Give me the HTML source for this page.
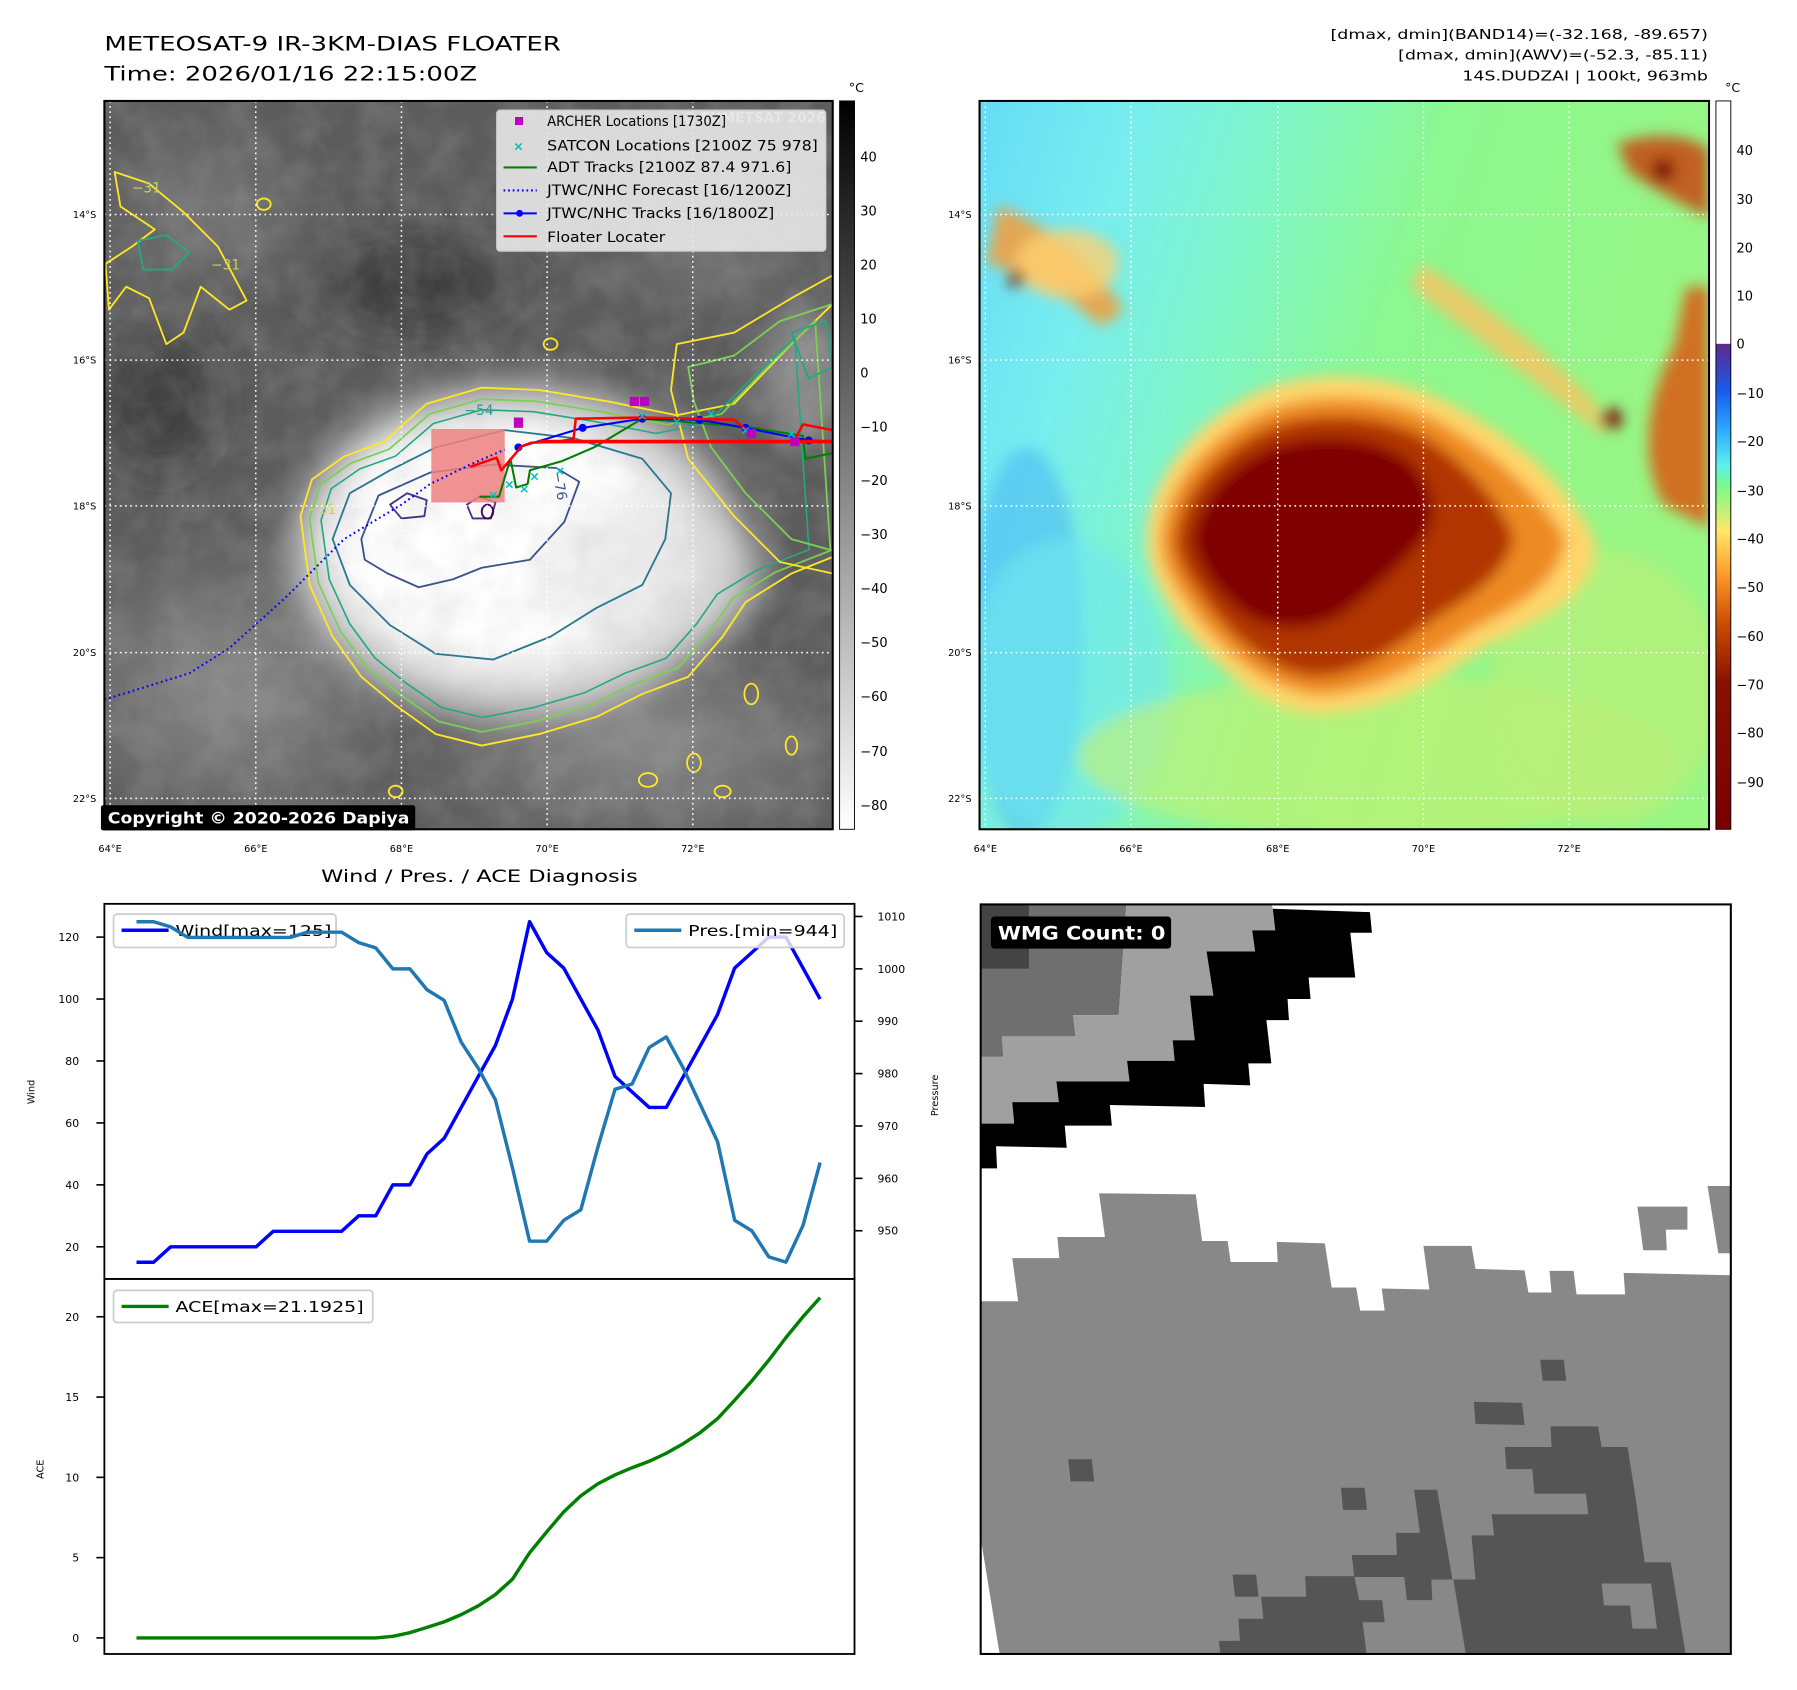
<!DOCTYPE html>
<html><head><meta charset="utf-8"><title>METEOSAT-9 IR Floater</title>
<style>
html,body{margin:0;padding:0;background:#fff;}
svg{display:block;font-family:"DejaVu Sans","Liberation Sans",sans-serif;}
</style></head>
<body>
<svg id="fig" width="1797" height="1690" viewBox="0 0 1566.7 1473.4" xmlns="http://www.w3.org/2000/svg">
<defs>
  <clipPath id="clip1"><rect x="91" y="88" width="635" height="635"/></clipPath>
  <clipPath id="clip2"><rect x="854" y="88" width="636" height="635"/></clipPath>
  <clipPath id="clip3"><rect x="855" y="789" width="654" height="653"/></clipPath>
  <filter id="blur6" x="-20%" y="-20%" width="140%" height="140%"><feGaussianBlur stdDeviation="6"/></filter>
  <filter id="blur14" x="-30%" y="-30%" width="160%" height="160%"><feGaussianBlur stdDeviation="14"/></filter>
  <filter id="noise" x="0" y="0" width="100%" height="100%">
    <feTurbulence type="fractalNoise" baseFrequency="0.035" numOctaves="3" seed="4"/>
    <feColorMatrix type="matrix" values="0 0 0 0 0.5  0 0 0 0 0.5  0 0 0 0 0.5  0 0 0 1.1 -0.35"/>
  </filter>
  <linearGradient id="cbGray" x1="0" y1="1" x2="0" y2="0">
    <stop offset="0" stop-color="#ffffff"/><stop offset="1" stop-color="#000000"/>
  </linearGradient>
  <linearGradient id="cbJet" x1="0" y1="0" x2="0" y2="1">
    <stop offset="0" stop-color="#ffffff"/>
    <stop offset="0.333" stop-color="#ffffff"/>
    <stop offset="0.334" stop-color="#5a2a8c"/>
    <stop offset="0.40" stop-color="#1a5cf0"/>
    <stop offset="0.45" stop-color="#2aa8ff"/>
    <stop offset="0.50" stop-color="#5cf0f0"/>
    <stop offset="0.53" stop-color="#7cfb8a"/>
    <stop offset="0.59" stop-color="#ffe866"/>
    <stop offset="0.65" stop-color="#ff9a2a"/>
    <stop offset="0.72" stop-color="#c84a00"/>
    <stop offset="0.80" stop-color="#8a1000"/>
    <stop offset="1" stop-color="#7a0000"/>
  </linearGradient>
  <radialGradient id="irCore" cx="0.5" cy="0.5" r="0.5">
    <stop offset="0" stop-color="#ffffff"/><stop offset="0.6" stop-color="#f4f4f4"/>
    <stop offset="0.85" stop-color="#c8c8c8"/><stop offset="1" stop-color="#8a8a8a" stop-opacity="0"/>
  </radialGradient>
  <radialGradient id="irPatch" cx="0.5" cy="0.5" r="0.5">
    <stop offset="0" stop-color="#8c8c8c"/><stop offset="1" stop-color="#8c8c8c" stop-opacity="0"/>
  </radialGradient>
  <radialGradient id="irDark" cx="0.5" cy="0.5" r="0.5">
    <stop offset="0" stop-color="#333"/><stop offset="1" stop-color="#333" stop-opacity="0"/>
  </radialGradient>
  <linearGradient id="awvBg" x1="0" y1="0" x2="1" y2="0.3">
    <stop offset="0" stop-color="#66dcf6"/><stop offset="0.2" stop-color="#78eef0"/>
    <stop offset="0.4" stop-color="#80f6c4"/><stop offset="0.6" stop-color="#8cf890"/>
    <stop offset="1" stop-color="#98f684"/>
  </linearGradient>
  <polygon id="outerShape" points="262,450 272,418 300,398 335,385 372,352 420,338 470,340 530,350 590,362 640,352 690,300 726,265 740,480 690,500 650,525 630,555 600,590 560,605 520,625 470,640 420,650 380,640 345,615 315,590 290,555 270,510"/>
</defs>

<!-- Titles -->
<text x="91" y="44" font-size="17" textLength="398" lengthAdjust="spacingAndGlyphs" fill="#000">METEOSAT-9 IR-3KM-DIAS FLOATER</text>
<text x="91" y="70" font-size="17" textLength="325" lengthAdjust="spacingAndGlyphs" fill="#000">Time: 2026/01/16 22:15:00Z</text>
<g font-size="11.3" fill="#000">
  <text x="1160" y="34" textLength="329" lengthAdjust="spacingAndGlyphs">[dmax, dmin](BAND14)=(-32.168, -89.657)</text>
  <text x="1219" y="52" textLength="270" lengthAdjust="spacingAndGlyphs">[dmax, dmin](AWV)=(-52.3, -85.11)</text>
  <text x="1275" y="70" textLength="214" lengthAdjust="spacingAndGlyphs">14S.DUDZAI | 100kt, 963mb</text>
</g>

<!-- IR map -->
<g id="irmap" clip-path="url(#clip1)">
  <rect x="91" y="88" width="635" height="635" fill="#5c5c5c"/>
  <g filter="url(#blur14)">
    <ellipse cx="200" cy="600" rx="170" ry="140" fill="url(#irPatch)"/>
    <ellipse cx="560" cy="650" rx="220" ry="100" fill="url(#irPatch)"/>
    <ellipse cx="180" cy="180" rx="110" ry="90" fill="url(#irPatch)" opacity="0.6"/>
    <ellipse cx="620" cy="230" rx="120" ry="50" fill="url(#irPatch)" opacity="0.5"/>
    <ellipse cx="360" cy="250" rx="120" ry="60" fill="url(#irDark)"/>
    <ellipse cx="140" cy="350" rx="70" ry="80" fill="url(#irDark)"/>
    <ellipse cx="700" cy="330" rx="40" ry="60" fill="#9a9a9a" opacity="0.7"/>
    <ellipse cx="450" cy="480" rx="215" ry="160" fill="url(#irCore)"/>
    <ellipse cx="430" cy="470" rx="150" ry="105" fill="#ffffff" opacity="0.9"/>
    <ellipse cx="570" cy="500" rx="95" ry="65" fill="#e4e4e4" opacity="0.6"/>
  </g>
  <rect x="91" y="88" width="635" height="635" filter="url(#noise)" opacity="0.35"/>
  <g fill="none" stroke-width="1.6" stroke-linejoin="round">
    <use href="#outerShape" stroke="#fde725"/>
    <use href="#outerShape" stroke="#7ad151" transform="translate(420,480) scale(0.95,0.93) translate(-420,-480)"/>
    <use href="#outerShape" stroke="#22a884" transform="translate(425,475) scale(0.89,0.86) translate(-425,-475)"/>
    <polygon stroke="#2a788e" points="290,470 305,430 340,410 380,390 440,375 500,382 560,400 585,430 580,470 560,510 520,530 480,555 430,575 380,570 340,545 305,510"/>
    <polygon stroke="#3b528b" points="315,470 330,432 375,412 430,405 485,408 505,420 492,455 462,488 420,495 395,505 365,512 338,500 318,488"/>
    <polygon stroke="#46327e" points="340,440 355,430 372,436 370,450 350,452"/>
    <polygon stroke="#46327e" points="407,440 418,433 432,438 428,452 412,452"/>
    <ellipse cx="425" cy="446" rx="5" ry="6" stroke="#440154"/>
    <polygon stroke="#fde725" points="100,150 130,160 160,185 190,215 215,262 200,270 175,250 160,290 145,300 130,260 110,250 95,270 92,230 115,215 135,200 105,180"/>
    <polygon stroke="#22a884" points="120,210 145,205 165,220 150,235 125,235"/>
    <polygon stroke="#7ad151" points="600,320 640,310 680,280 726,265 726,480 690,470 650,430 620,390 605,350"/>
    <polygon stroke="#fde725" points="590,300 640,290 690,260 726,240 726,500 680,490 640,450 600,400 585,340"/>
    <polygon stroke="#22a884" points="690,290 720,280 726,320 705,330"/>
    <g stroke="#fde725">
      <ellipse cx="565" cy="680" rx="8" ry="6"/><ellipse cx="605" cy="665" rx="6" ry="8"/><ellipse cx="630" cy="690" rx="7" ry="5"/>
      <ellipse cx="345" cy="690" rx="6" ry="5"/><ellipse cx="480" cy="300" rx="6" ry="5"/><ellipse cx="230" cy="178" rx="6" ry="5"/>
      <ellipse cx="655" cy="605" rx="6" ry="9"/><ellipse cx="690" cy="650" rx="5" ry="8"/>
    </g>
    <text x="405" y="362" font-size="12" fill="#2a9d8f" stroke="none">−54</text>
    <text x="115" y="168" font-size="12" fill="#c8d060" stroke="none">−31</text>
    <text x="184" y="235" font-size="12" fill="#c8d060" stroke="none">−31</text>
    <text x="268" y="448" font-size="12" fill="#d0d060" stroke="none">−31</text>
    <text x="480" y="422" font-size="12" fill="#3b528b" stroke="none" transform="rotate(80 487 418)">−76</text>
  </g>
  <g stroke="#fff" stroke-width="1.3" stroke-dasharray="1.5,3">
    <line x1="96" y1="88" x2="96" y2="723"/><line x1="223" y1="88" x2="223" y2="723"/><line x1="350" y1="88" x2="350" y2="723"/><line x1="477" y1="88" x2="477" y2="723"/><line x1="604" y1="88" x2="604" y2="723"/>
    <line x1="91" y1="187" x2="726" y2="187"/><line x1="91" y1="314" x2="726" y2="314"/><line x1="91" y1="441" x2="726" y2="441"/><line x1="91" y1="569" x2="726" y2="569"/><line x1="91" y1="696" x2="726" y2="696"/>
  </g>
  <rect x="376" y="374" width="64" height="64" fill="#f08080" opacity="0.85"/>
  <g fill="none" stroke-linejoin="round">
    <polyline stroke="#0000ff" stroke-width="1.8" stroke-dasharray="1.5,2.8" points="91,610 165,587 200,565 250,520 300,470 350,440 375,422 410,405 440,392"/>
    <polyline stroke="#008000" stroke-width="1.8" points="418,433 435,433 445,400 450,425 460,422 462,410 490,402 518,390 560,365 600,368 650,372 700,380 702,400 726,395"/>
    <polyline stroke="#0000ff" stroke-width="1.8" points="452,390 508,373 560,365 610,366 650,373 705,384 726,385"/>
    <g fill="#0000ff">
      <circle cx="452" cy="390" r="3.5"/><circle cx="508" cy="373" r="3.5"/><circle cx="560" cy="365" r="3.5"/><circle cx="610" cy="366" r="3.5"/><circle cx="650" cy="373" r="3.5"/><circle cx="705" cy="384" r="3.5"/>
    </g>
    <polyline stroke="#ff0000" stroke-width="2.2" points="410,407 433,399 437,410 455,389 463,386 485,385 500,383 502,365 560,364 640,366 655,378"/>
    <polyline stroke="#ff0000" stroke-width="3.2" points="470,385 726,385"/>
    <polyline stroke="#ff0000" stroke-width="2.2" points="692,385 700,370 726,375"/>
    <g fill="#00c0c0" font-size="11" font-weight="bold" text-anchor="middle" stroke="none">
      <text x="430" y="435">×</text><text x="444" y="426">×</text><text x="457" y="430">×</text><text x="466" y="419">×</text><text x="488" y="414">×</text>
      <text x="560" y="366">×</text><text x="590" y="371">×</text><text x="620" y="364">×</text><text x="650" y="379">×</text><text x="690" y="382">×</text>
    </g>
    <g fill="#c000c0" stroke="none">
      <rect x="448" y="364" width="8" height="9"/><rect x="549" y="346" width="8" height="8"/><rect x="558" y="346" width="8" height="8"/><rect x="651" y="374" width="8" height="8"/><rect x="689" y="381" width="8" height="8"/>
    </g>
  </g>
  <text x="720" y="107" font-size="12" font-weight="bold" text-anchor="end" fill="#d8d8d8">© EUMETSAT 2026</text>
  <g>
    <rect x="433" y="96" width="287" height="123" rx="3" fill="#e8e8e8" fill-opacity="0.9" stroke="#ccc"/>
    <rect x="449" y="102" width="7" height="7" fill="#c000c0"/>
    <text x="452" y="131" font-size="11" text-anchor="middle" fill="#00c0c0" font-weight="bold">×</text>
    <line x1="439" y1="146" x2="468" y2="146" stroke="#008000" stroke-width="1.8"/>
    <line x1="439" y1="166" x2="468" y2="166" stroke="#0000ff" stroke-width="1.8" stroke-dasharray="1.5,2.5"/>
    <line x1="439" y1="186" x2="468" y2="186" stroke="#0000ff" stroke-width="1.8"/><circle cx="453" cy="186" r="3" fill="#0000ff"/>
    <line x1="439" y1="206" x2="468" y2="206" stroke="#ff0000" stroke-width="1.8"/>
    <g font-size="12.3" fill="#000">
      <text x="477" y="110" textLength="156" lengthAdjust="spacingAndGlyphs">ARCHER Locations [1730Z]</text>
      <text x="477" y="131" textLength="236" lengthAdjust="spacingAndGlyphs">SATCON Locations [2100Z 75 978]</text>
      <text x="477" y="150" textLength="213" lengthAdjust="spacingAndGlyphs">ADT Tracks [2100Z 87.4 971.6]</text>
      <text x="477" y="170" textLength="213" lengthAdjust="spacingAndGlyphs">JTWC/NHC Forecast [16/1200Z]</text>
      <text x="477" y="190" textLength="198" lengthAdjust="spacingAndGlyphs">JTWC/NHC Tracks [16/1800Z]</text>
      <text x="477" y="211" textLength="103" lengthAdjust="spacingAndGlyphs">Floater Locater</text>
    </g>
  </g>
</g>
<rect x="91" y="88" width="635" height="635" fill="none" stroke="#000" stroke-width="1.8"/>
<g>
  <rect x="88" y="702" width="274" height="22" rx="2" fill="#000"/>
  <text x="94" y="718" font-size="14" font-weight="bold" fill="#fff" textLength="263" lengthAdjust="spacingAndGlyphs">Copyright © 2020-2026 Dapiya</text>
</g>
<g font-size="8.5" text-anchor="end">
  <text x="84" y="190">14°S</text><text x="84" y="317">16°S</text><text x="84" y="444">18°S</text><text x="84" y="572">20°S</text><text x="84" y="699">22°S</text>
</g>
<g font-size="8.5" text-anchor="middle">
  <text x="96" y="743">64°E</text><text x="223" y="743">66°E</text><text x="350" y="743">68°E</text><text x="477" y="743">70°E</text><text x="604" y="743">72°E</text>
</g>
<g>
  <rect x="732" y="88" width="13" height="635" fill="url(#cbGray)" stroke="#000" stroke-width="0.8"/>
  <text x="740" y="80" font-size="11">°C</text>
  <g font-size="11.3" fill="#000">
    <text x="750" y="141">40</text><text x="750" y="188">30</text><text x="750" y="235">20</text><text x="750" y="282">10</text><text x="750" y="329">0</text>
    <text x="750" y="376">−10</text><text x="750" y="423">−20</text><text x="750" y="470">−30</text><text x="750" y="517">−40</text><text x="750" y="564">−50</text>
    <text x="750" y="611">−60</text><text x="750" y="659">−70</text><text x="750" y="706">−80</text>
  </g>
</g>

<!-- AWV map -->
<g clip-path="url(#clip2)">
  <rect x="854" y="88" width="636" height="635" fill="url(#awvBg)"/>
  <g filter="url(#blur6)">
    <ellipse cx="895" cy="560" rx="50" ry="170" fill="#4cb8f4" opacity="0.6"/>
    <ellipse cx="930" cy="600" rx="90" ry="130" fill="#70e8f0" opacity="0.6"/>
    <ellipse cx="1200" cy="660" rx="260" ry="70" fill="#c8f070" opacity="0.6"/>
    <ellipse cx="1400" cy="600" rx="100" ry="120" fill="#b8f07a" opacity="0.7"/>
    <path d="M870 180 Q930 200 980 270 L960 285 Q910 240 860 230Z" fill="#f0a040" opacity="0.9"/>
    <ellipse cx="930" cy="230" rx="45" ry="30" fill="#ffd070" opacity="0.8"/>
    <circle cx="886" cy="243" r="7" fill="#7a0000"/>
    <path d="M1410 125 Q1460 110 1490 130 L1490 190 Q1450 170 1420 150Z" fill="#c06020"/>
    <circle cx="1450" cy="148" r="10" fill="#7a0000"/>
    <path d="M1470 250 L1490 250 L1490 460 L1450 440 Q1420 380 1460 300Z" fill="#d07020"/>
    <path d="M1240 230 Q1320 280 1390 350 L1400 380 Q1320 320 1230 250Z" fill="#ffc060" opacity="0.8"/>
    <circle cx="1405" cy="365" r="9" fill="#7a0000"/>
    <path d="M1000 470 C1000 420 1040 370 1090 345 C1140 320 1210 325 1260 350 C1310 375 1360 410 1390 470 C1395 520 1340 540 1300 560 C1260 590 1210 620 1150 622 C1100 620 1060 580 1030 545 C1010 515 1000 495 1000 470Z" fill="#ffd56a"/>
    <path d="M1012 470 C1015 425 1050 385 1095 362 C1140 340 1205 343 1250 365 C1295 390 1340 425 1365 470 C1360 510 1320 530 1285 548 C1245 575 1200 605 1150 606 C1105 602 1070 570 1045 540 C1025 512 1012 495 1012 470Z" fill="#ee8a20"/>
    <path d="M1025 470 C1030 428 1062 395 1102 375 C1145 357 1200 360 1240 380 C1280 405 1310 440 1320 470 C1310 505 1280 520 1250 540 C1215 565 1185 590 1145 590 C1105 585 1075 555 1055 530 C1038 505 1025 490 1025 470Z" fill="#b03400"/>
    <path d="M1040 470 C1048 430 1075 405 1110 390 C1150 377 1195 380 1225 400 C1250 420 1255 450 1240 470 C1220 495 1195 515 1170 535 C1140 552 1110 550 1085 535 C1060 515 1045 495 1040 470Z" fill="#800000"/>
  </g>
  <g stroke="#fff" stroke-width="1.3" stroke-dasharray="1.5,3">
    <line x1="859" y1="88" x2="859" y2="723"/><line x1="986" y1="88" x2="986" y2="723"/><line x1="1114" y1="88" x2="1114" y2="723"/><line x1="1241" y1="88" x2="1241" y2="723"/><line x1="1368" y1="88" x2="1368" y2="723"/>
    <line x1="854" y1="187" x2="1490" y2="187"/><line x1="854" y1="314" x2="1490" y2="314"/><line x1="854" y1="441" x2="1490" y2="441"/><line x1="854" y1="569" x2="1490" y2="569"/><line x1="854" y1="696" x2="1490" y2="696"/>
  </g>
</g>
<rect x="854" y="88" width="636" height="635" fill="none" stroke="#000" stroke-width="1.8"/>
<g font-size="8.5" text-anchor="end">
  <text x="847" y="190">14°S</text><text x="847" y="317">16°S</text><text x="847" y="444">18°S</text><text x="847" y="572">20°S</text><text x="847" y="699">22°S</text>
</g>
<g font-size="8.5" text-anchor="middle">
  <text x="859" y="743">64°E</text><text x="986" y="743">66°E</text><text x="1114" y="743">68°E</text><text x="1241" y="743">70°E</text><text x="1368" y="743">72°E</text>
</g>
<g>
  <rect x="1496" y="88" width="13" height="635" fill="url(#cbJet)" stroke="#000" stroke-width="0.8"/>
  <text x="1504" y="80" font-size="11">°C</text>
  <g font-size="11.3" fill="#000">
    <text x="1514" y="135">40</text><text x="1514" y="178">30</text><text x="1514" y="220">20</text><text x="1514" y="262">10</text><text x="1514" y="304">0</text>
    <text x="1514" y="347">−10</text><text x="1514" y="389">−20</text><text x="1514" y="432">−30</text><text x="1514" y="474">−40</text><text x="1514" y="516">−50</text>
    <text x="1514" y="559">−60</text><text x="1514" y="601">−70</text><text x="1514" y="643">−80</text><text x="1514" y="686">−90</text>
  </g>
</g>

<!-- Diagnosis chart -->
<text x="280" y="769" font-size="14.5" textLength="276" lengthAdjust="spacingAndGlyphs">Wind / Pres. / ACE Diagnosis</text>
<g id="chart-static">
  <rect x="91" y="788" width="654" height="327" fill="none" stroke="#000" stroke-width="1.6"/>
  <rect x="91" y="1115" width="654" height="327" fill="none" stroke="#000" stroke-width="1.6"/>
  <text x="30" y="952" font-size="8.5" text-anchor="middle" transform="rotate(-90 30 952)">Wind</text>
  <text x="818" y="955" font-size="8.5" text-anchor="middle" transform="rotate(-90 818 955)">Pressure</text>
  <text x="38" y="1281" font-size="8.5" text-anchor="middle" transform="rotate(-90 38 1281)">ACE</text>
</g>
<g id="chart">
  <!-- static fallback (replaced by script) -->
  <g id="chart-fallback">
    <g stroke="#000" stroke-width="1.4">
      <line x1="84" y1="1087" x2="91" y2="1087"/><line x1="84" y1="1033" x2="91" y2="1033"/><line x1="84" y1="979" x2="91" y2="979"/><line x1="84" y1="925" x2="91" y2="925"/><line x1="84" y1="871" x2="91" y2="871"/><line x1="84" y1="817" x2="91" y2="817"/>
      <line x1="745" y1="1073" x2="752" y2="1073"/><line x1="745" y1="1027.3" x2="752" y2="1027.3"/><line x1="745" y1="981.7" x2="752" y2="981.7"/><line x1="745" y1="936" x2="752" y2="936"/><line x1="745" y1="890.3" x2="752" y2="890.3"/><line x1="745" y1="844.7" x2="752" y2="844.7"/><line x1="745" y1="799" x2="752" y2="799"/>
      <line x1="84" y1="1428" x2="91" y2="1428"/><line x1="84" y1="1358" x2="91" y2="1358"/><line x1="84" y1="1288" x2="91" y2="1288"/><line x1="84" y1="1218" x2="91" y2="1218"/><line x1="84" y1="1148" x2="91" y2="1148"/>
    </g>
    <g font-size="9.5" text-anchor="end">
      <text x="69" y="1090.5">20</text><text x="69" y="1036.5">40</text><text x="69" y="982.5">60</text><text x="69" y="928.5">80</text><text x="69" y="874.5">100</text><text x="69" y="820.5">120</text>
      <text x="69" y="1431.5">0</text><text x="69" y="1361.5">5</text><text x="69" y="1291.5">10</text><text x="69" y="1221.5">15</text><text x="69" y="1151.5">20</text>
    </g>
    <g font-size="9.5">
      <text x="765" y="1076.5">950</text><text x="765" y="1030.8">960</text><text x="765" y="985.2">970</text><text x="765" y="939.5">980</text><text x="765" y="893.8">990</text><text x="765" y="848.2">1000</text><text x="765" y="802.5">1010</text>
    </g>
    <polyline fill="none" stroke="#0000ff" stroke-width="3" stroke-linejoin="round" points="119,1100.5 133.9,1100.5 148.8,1087 163.7,1087 178.6,1087 193.5,1087 208.4,1087 223.3,1087 238.2,1073.5 253.1,1073.5 268,1073.5 282.9,1073.5 297.8,1073.5 312.7,1060 327.6,1060 342.5,1033 357.4,1033 372.3,1006 387.2,992.5 402.1,965.5 417,938.5 431.9,911.5 446.8,871 461.7,803.5 476.6,830.5 491.5,844 506.4,871 521.3,898 536.2,938.5 551.1,952 566,965.5 580.9,965.5 595.8,938.5 610.7,911.5 625.6,884.5 640.5,844 655.4,830.5 670.3,817 685.2,817 700.1,844 715,871"/>
    <rect x="99" y="797" width="194" height="29" rx="3" fill="#fff" fill-opacity="0.8" stroke="#ccc" stroke-width="1.5"/>
    <line x1="106" y1="811" x2="147" y2="811" stroke="#0000ff" stroke-width="3"/>
    <text x="153" y="816" font-size="13.5" textLength="136" lengthAdjust="spacingAndGlyphs">Wind[max=125]</text>
    <polyline fill="none" stroke="#1f77b4" stroke-width="3" stroke-linejoin="round" points="119,803.5 133.9,803.5 148.8,808.1 163.7,817.2 178.6,817.2 193.5,817.2 208.4,817.2 223.3,817.2 238.2,817.2 253.1,817.2 268,812.7 282.9,812.7 297.8,812.7 312.7,821.8 327.6,826.4 342.5,844.6 357.4,844.6 372.3,862.9 387.2,872 402.1,908.6 417,931.4 431.9,958.8 446.8,1018.2 461.7,1082.1 476.6,1082.1 491.5,1063.9 506.4,1054.7 521.3,1000 536.2,949.7 551.1,945.1 566,913.2 580.9,904 595.8,931.4 610.7,963.4 625.6,995.4 640.5,1063.9 655.4,1073 670.3,1095.8 685.2,1100.4 700.1,1068.4 715,1013.6"/>
    <rect x="546" y="797" width="190" height="29" rx="3" fill="#fff" fill-opacity="0.8" stroke="#ccc" stroke-width="1.5"/>
    <line x1="553" y1="811" x2="594" y2="811" stroke="#1f77b4" stroke-width="3"/>
    <text x="600" y="816" font-size="13.5" textLength="130" lengthAdjust="spacingAndGlyphs">Pres.[min=944]</text>
    <polyline fill="none" stroke="#008000" stroke-width="3" stroke-linejoin="round" points="119,1428 327.6,1428 342.5,1426.6 357.4,1423.4 372.3,1418.8 387.2,1414 402.1,1407.7 417,1400 431.9,1390.2 446.8,1376.8 461.7,1353.8 476.6,1335.6 491.5,1318.1 506.4,1304.1 521.3,1293.6 536.2,1285.9 551.1,1279.6 566,1274 580.9,1267 595.8,1258.6 610.7,1248.8 625.6,1236.8 640.5,1220.8 655.4,1204 670.3,1185.8 685.2,1166.2 700.1,1148 715,1131.3"/>
    <rect x="99" y="1125" width="226" height="28" rx="3" fill="#fff" fill-opacity="0.8" stroke="#ccc" stroke-width="1.5"/>
    <line x1="106" y1="1139" x2="147" y2="1139" stroke="#008000" stroke-width="3"/>
    <text x="153" y="1144" font-size="13.5" textLength="164" lengthAdjust="spacingAndGlyphs">ACE[max=21.1925]</text>
  </g>
</g>

<!-- WMG panel -->
<g>
  <g clip-path="url(#clip3)">
  <g transform="translate(850,780.3) scale(0.4278)">
    <rect x="0" y="0" width="1570" height="1570" fill="#fff"/>
    <polygon fill="#888888" points="10,828 88,828 76,740 172,740 168,697 265,697 253,608 450,610 463,705 515,705 521,748 617,748 615,707 713,710 727,800 777,800 785,847 835,847 829,802 926,804 914,715 1012,715 1020,762 1120,765 1128,810 1175,810 1171,766 1220,766 1226,814 1325,814 1322,770 1540,775 1540,1545 50,1545 10,1300"/>
    <polygon fill="#888888" points="1350,635 1452,635 1452,682 1408,682 1410,724 1362,724"/>
    <polygon fill="#888888" points="1493,593 1540,593 1540,730 1515,730"/>
    <polygon fill="#6f6f6f" points="0,0 310,0 293,245 200,245 205,288 55,288 58,330 0,330"/>
    <rect x="0" y="0" width="110" height="150" fill="#444"/>
    <polygon fill="#a0a0a0" points="310,0 600,0 607,28 612,72 565,72 571,115 472,115 486,205 438,205 448,296 403,296 407,338 310,338 315,380 166,380 171,422 76,422 80,466 0,466 0,330 58,330 55,288 205,288 200,245 293,245"/>
    <polygon fill="#000" points="607,28 805,35 809,77 765,77 775,168 680,168 684,212 637,212 640,255 594,255 604,343 557,343 561,388 466,385 469,432 275,428 279,470 183,470 187,515 43,512 45,557 0,557 0,466 80,466 76,422 171,422 166,380 315,380 310,338 407,338 403,296 448,296 438,205 486,205 472,115 571,115 565,72 612,72"/>
    <g fill="#555555">
      <polygon points="1152,947 1200,947 1205,990 1157,990"/>
      <polygon points="1017,1033 1115,1035 1120,1080 1020,1078"/>
      <polygon points="190,1150 238,1150 243,1195 195,1195"/>
      <polygon points="746,1208 794,1208 799,1253 750,1253"/>
      <polygon points="1173,1083 1270,1083 1277,1125 1330,1125 1345,1220 1365,1360 1418,1360 1448,1545 1000,1545 975,1395 1020,1395 1012,1305 1058,1305 1053,1262 1250,1262 1245,1220 1140,1220 1136,1170 1083,1170 1080,1125 1175,1125"/>
      <polygon points="895,1212 942,1212 973,1395 930,1395 932,1437 880,1437 875,1390 773,1390 768,1345 860,1345 858,1300 907,1300"/>
      <polygon points="525,1385 573,1385 578,1430 530,1430"/>
      <polygon points="583,1430 675,1430 673,1388 773,1388 783,1437 830,1437 835,1482 790,1482 798,1545 500,1545 497,1520 540,1520 537,1475 588,1475"/>
    </g>
    <polygon fill="#888888" points="1277,1403 1378,1403 1390,1495 1340,1495 1335,1448 1282,1448"/>
  </g>
  </g>
  <rect x="855" y="788.5" width="654" height="653.5" fill="none" stroke="#000" stroke-width="1.8"/>
  <g>
    <rect x="864" y="799" width="157" height="28" rx="3" fill="#000"/>
    <text x="870" y="819" font-size="16.5" font-weight="bold" fill="#fff" textLength="146" lengthAdjust="spacingAndGlyphs">WMG Count: 0</text>
  </g>
</g>
</svg>

<script>
// ---- Diagnosis chart data ----
const windValues = [15,15,20,20,20,20,20,20,25,25,25,25,25,30,30,40,40,50,55,65,75,85,100,125,115,110,100,90,75,70,65,65,75,85,95,110,115,120,120,110,100];
const presValues = [1009,1009,1008,1006,1006,1006,1006,1006,1006,1006,1007,1007,1007,1005,1004,1000,1000,996,994,986,981,975,962,948,948,952,954,966,977,978,985,987,981,974,967,952,950,945,944,951,963];
const aceValues = [0,0,0,0,0,0,0,0,0,0,0,0,0,0,0,0.1,0.33,0.66,1.0,1.45,2.0,2.7,3.66,5.3,6.6,7.85,8.85,9.6,10.15,10.6,11.0,11.5,12.1,12.8,13.66,14.8,16.0,17.3,18.7,20.0,21.19];
const windTicks = [20,40,60,80,100,120];
const presTicks = [950,960,970,980,990,1000,1010];
const aceTicks = [0,5,10,15,20];

(function(){
try {
  const NS = 'http://www.w3.org/2000/svg';
  const mk = function(tag, attrs, parent){ const e=document.createElementNS(NS,tag); for(const k in attrs) e.setAttribute(k,attrs[k]); if(parent) parent.appendChild(e); return e; };
  const xIdx = i => 119 + i*(715-119)/(windValues.length-1);
  const yWind = v => 1087 - (v-20)*2.7;
  const yPres = p => 1073 - (p-950)*(274/60);
  const yAce = a => 1428 - a*14.0;
  const chart = document.getElementById('chart');
  const fb = document.getElementById('chart-fallback');
  if (fb) fb.remove();

  const drawLine = function(vals, yf, color, name){
    const pts = vals.map((v,i)=>xIdx(i).toFixed(1)+','+yf(v).toFixed(1)).join(' ');
    const p = mk('polyline',{points:pts,fill:'none',stroke:color,'stroke-width':3,'stroke-linejoin':'round'},chart);
    
    
  };
  const tick = function(y, x1, x2, tx, anchor, label, name){
    mk('line',{x1:x1,y1:y,x2:x2,y2:y,stroke:'#000','stroke-width':1.4},chart);
    const t = mk('text',{x:tx,y:y+3.5,'font-size':9.5,'text-anchor':anchor},chart);
    t.textContent = label;
    
    
  };
  windTicks.forEach(v=>tick(yWind(v),84,91,69,'end',v,'wind-tick-label'));
  presTicks.forEach(v=>tick(yPres(v),745,752,765,'start',v,'pressure-tick-label'));
  aceTicks.forEach(v=>tick(yAce(v),84,91,69,'end',v,'ace-tick-label'));

  const legend = function(x,y,w,h,color,label,tl,name){
    const g = mk('g',{},chart);
    
    
    mk('rect',{x:x,y:y,width:w,height:h,rx:3,fill:'#fff','fill-opacity':0.8,stroke:'#ccc','stroke-width':1.5},g);
    mk('line',{x1:x+7,y1:y+14,x2:x+48,y2:y+14,stroke:color,'stroke-width':3},g);
    const t = mk('text',{x:x+54,y:y+19,'font-size':13.5,textLength:tl,lengthAdjust:'spacingAndGlyphs'},g);
    t.textContent = label;
  };
  drawLine(windValues, yWind, '#0000ff', 'wind-line');
  legend(99,797,194,29,'#0000ff','Wind[max=' + Math.max.apply(null,windValues) + ']',136,'wind-legend');
  drawLine(presValues, yPres, '#1f77b4', 'pressure-line');
  legend(546,797,190,29,'#1f77b4','Pres.[min=' + Math.min.apply(null,presValues) + ']',130,'pressure-legend');
  drawLine(aceValues, yAce, '#008000', 'ace-line');
  legend(99,1125,226,28,'#008000','ACE[max=21.1925]',164,'ace-legend');
} catch(e) {}
})();
</script>
</body></html>
